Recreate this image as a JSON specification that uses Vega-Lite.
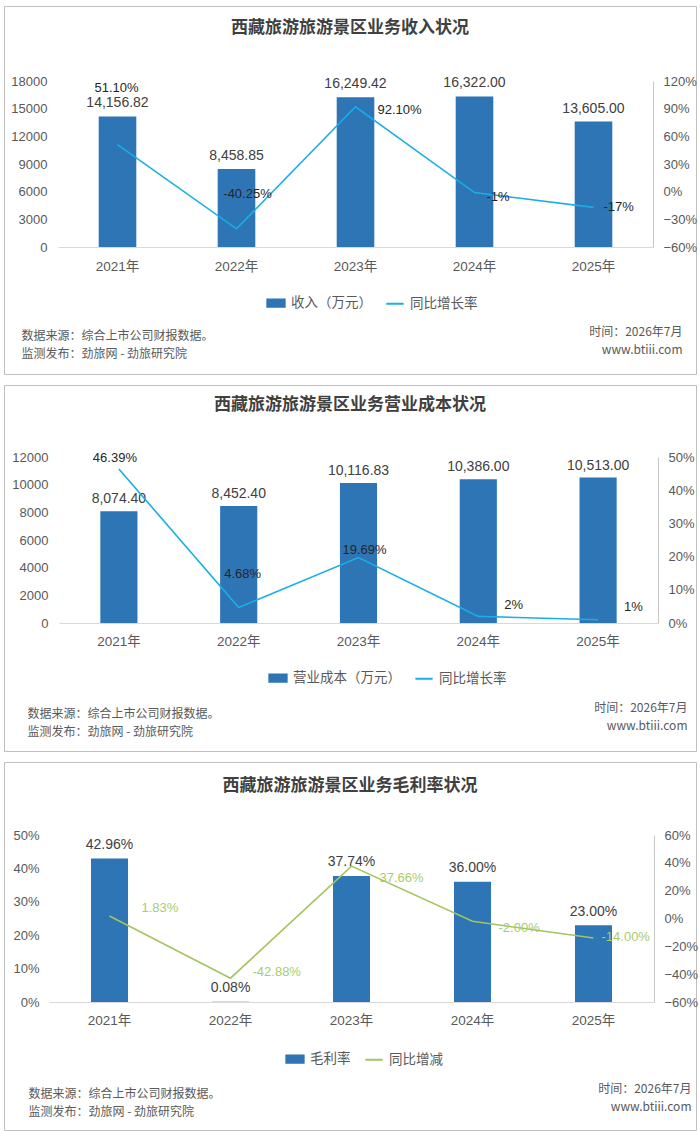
{
  "$schema": "https://vega.github.io/schema/vega-lite/v6.json",
  "background": "white",
  "padding": {"left": 3, "top": 5, "right": 0, "bottom": 0},
  "spacing": 9,
  "datasets": {
    "revenue": [
      {"year": "2021年", "value": 14156.82, "yoy": 0.511, "yoy_text": "51.10%"},
      {"year": "2022年", "value": 8458.85, "yoy": -0.4025, "yoy_text": "-40.25%"},
      {"year": "2023年", "value": 16249.42, "yoy": 0.921, "yoy_text": "92.10%"},
      {"year": "2024年", "value": 16322.0, "yoy": -0.01, "yoy_text": "-1%"},
      {"year": "2025年", "value": 13605.0, "yoy": -0.17, "yoy_text": "-17%"}
    ],
    "cost": [
      {"year": "2021年", "value": 8074.4, "yoy": 0.4639, "yoy_text": "46.39%"},
      {"year": "2022年", "value": 8452.4, "yoy": 0.0468, "yoy_text": "4.68%"},
      {"year": "2023年", "value": 10116.83, "yoy": 0.1969, "yoy_text": "19.69%"},
      {"year": "2024年", "value": 10386.0, "yoy": 0.02, "yoy_text": "2%"},
      {"year": "2025年", "value": 10513.0, "yoy": 0.01, "yoy_text": "1%"}
    ],
    "margin": [
      {"year": "2021年", "value": 0.4296, "yoy": 0.0183, "yoy_text": "1.83%"},
      {"year": "2022年", "value": 0.0008, "yoy": -0.4288, "yoy_text": "-42.88%"},
      {"year": "2023年", "value": 0.3774, "yoy": 0.3766, "yoy_text": "37.66%"},
      {"year": "2024年", "value": 0.36, "yoy": -0.02, "yoy_text": "-2.00%"},
      {"year": "2025年", "value": 0.23, "yoy": -0.14, "yoy_text": "-14.00%"}
    ]
  },
  "resolve": {
    "scale": {"color": "independent", "x": "independent", "y": "independent"},
    "legend": {"color": "independent"},
    "axis": {"x": "independent", "y": "independent"}
  },
  "config": {
    "view": {"stroke": "#bfbfbf", "strokeWidth": 1, "fill": "white"},
    "font": "'Liberation Sans', 'Noto Sans CJK SC', sans-serif",
    "axis": {
      "grid": false,
      "ticks": false,
      "labelFont": "'Liberation Sans', 'Noto Sans CJK SC', sans-serif",
      "labelColor": "#595959",
      "labelFontSize": 13,
      "titleFont": "'Noto Sans CJK SC', sans-serif",
      "titleFontSize": 12,
      "titleFontWeight": "normal",
      "titleColor": "#595959",
      "titleLineHeight": 18,
      "titleAngle": 0,
      "titleBaseline": "top",
      "domainColor": "#d0d0d0"
    },
    "legend": {
      "orient": "none",
      "direction": "horizontal",
      "symbolSize": 300,
      "labelOffset": 5,
      "columnPadding": 10,
      "padding": 0,
      "labelFont": "'Noto Sans CJK SC', sans-serif",
      "labelFontSize": 13.5,
      "labelColor": "#595959",
      "labelLimit": 300
    },
    "title": {
      "font": "'Noto Sans CJK SC', sans-serif",
      "fontSize": 17,
      "fontWeight": "bold",
      "color": "#404040",
      "frame": "group",
      "anchor": "middle"
    },
    "text": {
      "font": "'Liberation Sans', sans-serif",
      "fontSize": 13,
      "color": "#262626",
      "baseline": "middle"
    },
    "line": {"strokeWidth": 1.6}
  },
  "vconcat": [
    {
      "width": 692,
      "height": 368,
      "data": {"name": "revenue"},
      "title": {"text": "西藏旅游旅游景区业务收入状况", "offset": -31},
      "encoding": {
        "x": {
          "field": "year", "type": "ordinal",
          "scale": {"domain": ["2021年", "2022年", "2023年", "2024年", "2025年"], "range": [54, 649], "paddingInner": 0, "paddingOuter": 0},
          "axis": {
            "orient": "bottom", "offset": -127, "labelPadding": 12, "labelAngle": 0, "labelFontSize": 13.5,
            "domainColor": "#d9d9d9",
            "title": ["数据来源：综合上市公司财报数据。", "监测发布：劲旅网 - 劲旅研究院"],
            "titleX": 17, "titleY": 83, "titleAlign": "left"
          }
        }
      },
      "resolve": {"scale": {"y": "independent"}},
      "layer": [
        {
          "encoding": {
            "y": {
              "field": "value", "type": "quantitative",
              "scale": {"domain": [0, 18000], "range": [241, 75], "nice": false},
              "axis": {"orient": "left", "offset": -54, "values": [0, 3000, 6000, 9000, 12000, 15000, 18000], "format": "d", "domain": false, "labelPadding": 11, "title": null}
            }
          },
          "layer": [
            {
              "mark": {"type": "bar", "width": {"band": 0.316}},
              "encoding": {
                "color": {
                  "datum": "收入（万元）",
                  "scale": {"domain": ["收入（万元）", "同比增长率"], "range": ["#2E75B6", "#19AEE6"]},
                  "legend": {
                    "title": null, "legendX": 262, "legendY": 287,
                    "encode": {"symbols": {"update": {
                      "shape": {"signal": "datum.index === 0 ? 'M-1,-0.43H1V0.43H-1Z' : 'M-1,0H1'"},
                      "fill": {"signal": "datum.index === 0 ? '#2E75B6' : 'transparent'"},
                      "stroke": {"signal": "datum.index === 0 ? 'transparent' : '#19AEE6'"},
                      "strokeWidth": {"value": 2},
                      "opacity": {"value": 1}
                    }}}
                  }
                }
              }
            },
            {
              "mark": {"type": "text", "dy": -13, "fontSize": 14, "color": "#404040"},
              "encoding": {"text": {"field": "value", "format": ",.2f"}}
            }
          ]
        },
        {
          "encoding": {
            "y": {
              "field": "yoy", "type": "quantitative",
              "scale": {"domain": [-0.6, 1.2], "range": [241, 75], "nice": false},
              "axis": {
                "orient": "right", "offset": -43, "values": [-0.6, -0.3, 0, 0.3, 0.6, 0.9, 1.2], "format": ".0%",
                "domain": true, "domainColor": "#c8c8c8", "labelPadding": 10,
                "title": ["时间：2026年7月", "www.btiii.com"],
                "titleX": 29, "titleY": 320, "titleAlign": "right"
              }
            }
          },
          "layer": [
            {"mark": {"type": "line"}, "encoding": {"color": {"datum": "同比增长率"}}},
            {"transform": [{"filter": {"field": "year", "equal": "2021年"}}], "mark": {"type": "text", "dx": -1, "dy": -57}, "encoding": {"text": {"field": "yoy_text"}}},
            {"transform": [{"filter": {"field": "year", "equal": "2022年"}}], "mark": {"type": "text", "dx": 11, "dy": -35}, "encoding": {"text": {"field": "yoy_text"}}},
            {"transform": [{"filter": {"field": "year", "equal": "2023年"}}], "mark": {"type": "text", "align": "left", "dx": 22, "dy": 3}, "encoding": {"text": {"field": "yoy_text"}}},
            {"transform": [{"filter": {"field": "year", "equal": "2024年"}}], "mark": {"type": "text", "align": "left", "dx": 12, "dy": 4}, "encoding": {"text": {"field": "yoy_text"}}},
            {"transform": [{"filter": {"field": "year", "equal": "2025年"}}], "mark": {"type": "text", "align": "left", "dx": 10, "dy": 0}, "encoding": {"text": {"field": "yoy_text"}}}
          ]
        }
      ]
    },
    {
      "width": 692,
      "height": 366,
      "data": {"name": "cost"},
      "title": {"text": "西藏旅游旅游景区业务营业成本状况", "offset": -29},
      "encoding": {
        "x": {
          "field": "year", "type": "ordinal",
          "scale": {"domain": ["2021年", "2022年", "2023年", "2024年", "2025年"], "range": [55, 654], "paddingInner": 0, "paddingOuter": 0},
          "axis": {
            "orient": "bottom", "offset": -128, "labelPadding": 11, "labelAngle": 0, "labelFontSize": 13.5,
            "domainColor": "#d9d9d9",
            "title": ["数据来源：综合上市公司财报数据。", "监测发布：劲旅网 - 劲旅研究院"],
            "titleX": 23, "titleY": 85, "titleAlign": "left"
          }
        }
      },
      "resolve": {"scale": {"y": "independent"}},
      "layer": [
        {
          "encoding": {
            "y": {
              "field": "value", "type": "quantitative",
              "scale": {"domain": [0, 12000], "range": [238, 72], "nice": false},
              "axis": {"orient": "left", "offset": -55, "values": [0, 2000, 4000, 6000, 8000, 10000, 12000], "format": "d", "domain": false, "labelPadding": 11, "title": null}
            }
          },
          "layer": [
            {
              "mark": {"type": "bar", "width": {"band": 0.31}},
              "encoding": {
                "color": {
                  "datum": "营业成本（万元）",
                  "scale": {"domain": ["营业成本（万元）", "同比增长率"], "range": ["#2E75B6", "#19AEE6"]},
                  "legend": {
                    "title": null, "legendX": 264, "legendY": 283,
                    "encode": {"symbols": {"update": {
                      "shape": {"signal": "datum.index === 0 ? 'M-1,-0.43H1V0.43H-1Z' : 'M-1,0H1'"},
                      "fill": {"signal": "datum.index === 0 ? '#2E75B6' : 'transparent'"},
                      "stroke": {"signal": "datum.index === 0 ? 'transparent' : '#19AEE6'"},
                      "strokeWidth": {"value": 2},
                      "opacity": {"value": 1}
                    }}}
                  }
                }
              }
            },
            {
              "mark": {"type": "text", "dy": -12, "fontSize": 14, "color": "#404040"},
              "encoding": {"text": {"field": "value", "format": ",.2f"}}
            }
          ]
        },
        {
          "encoding": {
            "y": {
              "field": "yoy", "type": "quantitative",
              "scale": {"domain": [0, 0.5], "range": [238, 72], "nice": false},
              "axis": {
                "orient": "right", "offset": -38, "values": [0, 0.1, 0.2, 0.3, 0.4, 0.5], "format": ".0%",
                "domain": true, "domainColor": "#c8c8c8", "labelPadding": 10,
                "title": ["时间：2026年7月", "www.btiii.com"],
                "titleX": 29, "titleY": 317, "titleAlign": "right"
              }
            }
          },
          "layer": [
            {"mark": {"type": "line"}, "encoding": {"color": {"datum": "同比增长率"}}},
            {"transform": [{"filter": {"field": "year", "equal": "2021年"}}], "mark": {"type": "text", "dx": -4, "dy": -11}, "encoding": {"text": {"field": "yoy_text"}}},
            {"transform": [{"filter": {"field": "year", "equal": "2022年"}}], "mark": {"type": "text", "dx": 4, "dy": -33}, "encoding": {"text": {"field": "yoy_text"}}},
            {"transform": [{"filter": {"field": "year", "equal": "2023年"}}], "mark": {"type": "text", "dx": 6, "dy": -8}, "encoding": {"text": {"field": "yoy_text"}}},
            {"transform": [{"filter": {"field": "year", "equal": "2024年"}}], "mark": {"type": "text", "align": "left", "dx": 26, "dy": -11}, "encoding": {"text": {"field": "yoy_text"}}},
            {"transform": [{"filter": {"field": "year", "equal": "2025年"}}], "mark": {"type": "text", "align": "left", "dx": 26, "dy": -13}, "encoding": {"text": {"field": "yoy_text"}}}
          ]
        }
      ]
    },
    {
      "width": 692,
      "height": 368,
      "data": {"name": "margin"},
      "title": {"text": "西藏旅游旅游景区业务毛利率状况", "offset": -33},
      "encoding": {
        "x": {
          "field": "year", "type": "ordinal",
          "scale": {"domain": ["2021年", "2022年", "2023年", "2024年", "2025年"], "range": [45, 650], "paddingInner": 0, "paddingOuter": 0},
          "axis": {
            "orient": "bottom", "offset": -128, "labelPadding": 11, "labelAngle": 0, "labelFontSize": 13.5,
            "domainColor": "#d9d9d9",
            "title": ["数据来源：综合上市公司财报数据。", "监测发布：劲旅网 - 劲旅研究院"],
            "titleX": 24, "titleY": 86, "titleAlign": "left"
          }
        }
      },
      "resolve": {"scale": {"y": "independent"}},
      "layer": [
        {
          "encoding": {
            "y": {
              "field": "value", "type": "quantitative",
              "scale": {"domain": [0, 0.5], "range": [240, 73], "nice": false},
              "axis": {"orient": "left", "offset": -45, "values": [0, 0.1, 0.2, 0.3, 0.4, 0.5], "format": ".0%", "domain": false, "labelPadding": 10, "title": null}
            }
          },
          "layer": [
            {
              "mark": {"type": "bar", "width": {"band": 0.306}},
              "encoding": {
                "color": {
                  "datum": "毛利率",
                  "scale": {"domain": ["毛利率", "同比增减"], "range": ["#2E75B6", "#A4C45E"]},
                  "legend": {
                    "title": null, "legendX": 281, "legendY": 287,
                    "encode": {"symbols": {"update": {
                      "shape": {"signal": "datum.index === 0 ? 'M-1,-0.43H1V0.43H-1Z' : 'M-1,0H1'"},
                      "fill": {"signal": "datum.index === 0 ? '#2E75B6' : 'transparent'"},
                      "stroke": {"signal": "datum.index === 0 ? 'transparent' : '#A4C45E'"},
                      "strokeWidth": {"value": 2},
                      "opacity": {"value": 1}
                    }}}
                  }
                }
              }
            },
            {
              "mark": {"type": "text", "dy": -13.5, "fontSize": 14, "color": "#404040"},
              "encoding": {"text": {"field": "value", "format": ".2%"}}
            }
          ]
        },
        {
          "encoding": {
            "y": {
              "field": "yoy", "type": "quantitative",
              "scale": {"domain": [-0.6, 0.6], "range": [240, 73], "nice": false},
              "axis": {
                "orient": "right", "offset": -42, "values": [-0.6, -0.4, -0.2, 0, 0.2, 0.4, 0.6], "format": ".0%",
                "domain": true, "domainColor": "#c8c8c8", "labelPadding": 10,
                "title": ["时间：2026年7月", "www.btiii.com"],
                "titleX": 37, "titleY": 321, "titleAlign": "right"
              }
            }
          },
          "layer": [
            {"mark": {"type": "line"}, "encoding": {"color": {"datum": "同比增减"}}},
            {"transform": [{"filter": {"field": "year", "equal": "2021年"}}], "mark": {"type": "text", "align": "left", "dx": 32, "dy": -8, "color": "#A9CC6A"}, "encoding": {"text": {"field": "yoy_text"}}},
            {"transform": [{"filter": {"field": "year", "equal": "2022年"}}], "mark": {"type": "text", "align": "left", "dx": 22, "dy": -6, "color": "#A9CC6A"}, "encoding": {"text": {"field": "yoy_text"}}},
            {"transform": [{"filter": {"field": "year", "equal": "2023年"}}], "mark": {"type": "text", "align": "left", "dx": 28, "dy": 12, "color": "#A9CC6A"}, "encoding": {"text": {"field": "yoy_text"}}},
            {"transform": [{"filter": {"field": "year", "equal": "2024年"}}], "mark": {"type": "text", "align": "left", "dx": 26, "dy": 7, "color": "#A9CC6A"}, "encoding": {"text": {"field": "yoy_text"}}},
            {"transform": [{"filter": {"field": "year", "equal": "2025年"}}], "mark": {"type": "text", "align": "left", "dx": 8, "dy": -1, "color": "#A9CC6A"}, "encoding": {"text": {"field": "yoy_text"}}}
          ]
        }
      ]
    }
  ]
}
